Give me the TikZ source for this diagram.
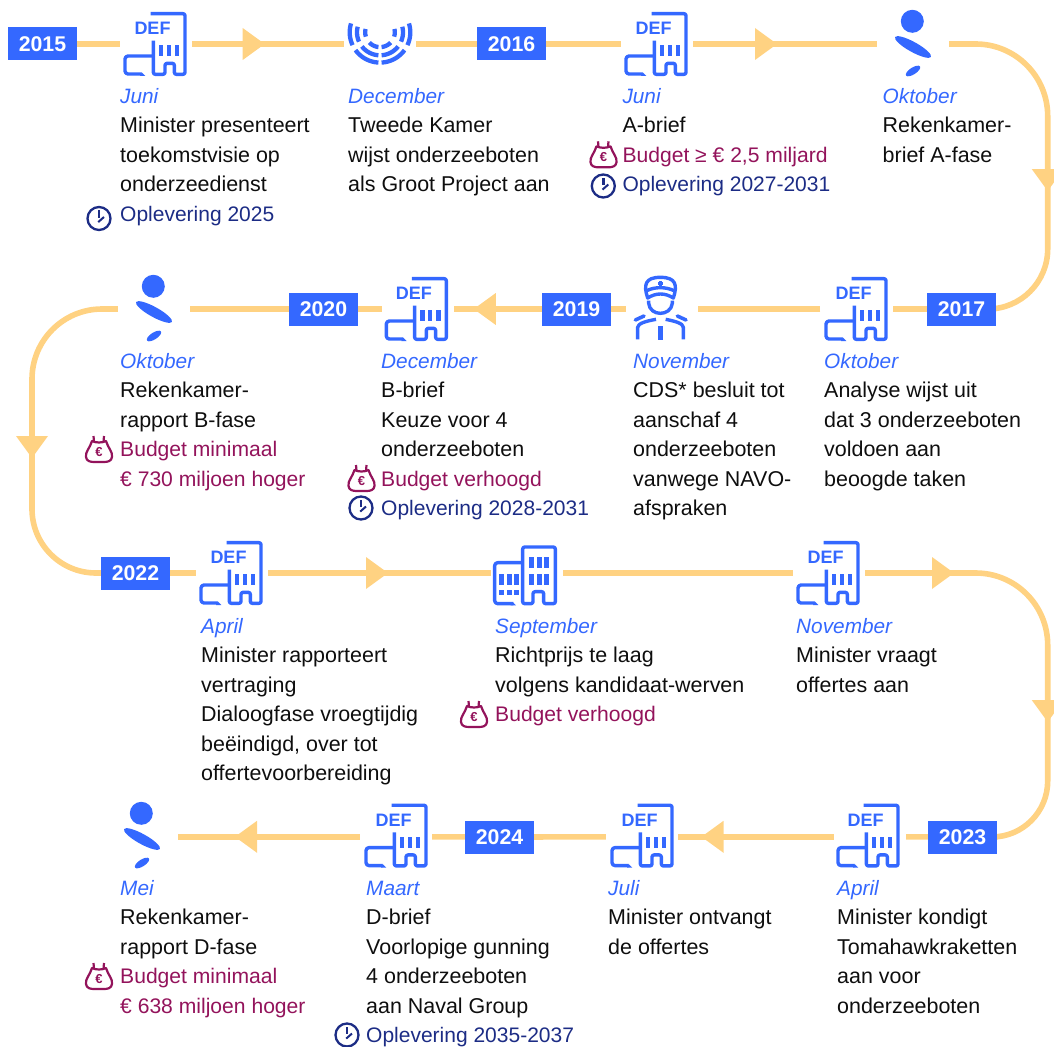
\documentclass[tikz,border=0pt]{standalone}
\usepackage{fontspec}
\usetikzlibrary{backgrounds}
\setmainfont{Liberation Sans}
\definecolor{kblue}{HTML}{3468FF}
\definecolor{road}{HTML}{FFD282}
\definecolor{navy}{HTML}{1C2C85}
\definecolor{plum}{HTML}{93135B}
\definecolor{ink}{HTML}{0E0E0E}
\newcommand{\mth}[1]{\strut{\color{kblue}\fontsize{20.8}{29.5}\selectfont\itshape #1}}
\newcommand{\nv}[1]{{\color{navy}\fontsize{21}{29.5}\selectfont #1}}
\newcommand{\pl}[1]{{\color{plum}\fontsize{21.1}{29.5}\selectfont #1}}
\tikzset{
  roadline/.style={draw=road,line width=5.6pt},
  yearbox/.style={fill=kblue,text=white,font=\fontsize{21.3}{21}\selectfont\bfseries,minimum width=69pt,minimum height=33pt,inner sep=0pt},
  slot/.style={minimum width=72pt,minimum height=64pt,inner sep=0pt},
  block/.style={anchor=north west,inner sep=0pt,align=left,text=ink,yshift=20.65pt,font=\fontsize{21.45}{29.5}\selectfont},
  iconline/.style={draw=kblue,line width=3.4pt,line join=round},
  pics/tri/.style={code={\fill[road] (-11,-16) -- (11,0) -- (-11,16) -- cycle;}},
  pics/deficon/.style={code={
    \begin{scope}[x=.33333pt,y=-.33333pt,shift={(-465,-132)}]
      \draw[iconline,rounded corners=2pt] (452,41) -- (555,41) -- (555,223) -- (523,223) -- (523,190) -- (495,190) -- (495,223) -- (460,223) -- (460,122);
      \draw[iconline,rounded corners=3pt] (460,168) -- (375,168) -- (375,222) -- (425,222);
      \fill[kblue] (425,217) -- (436,228) -- (420,228) -- cycle;
      \foreach \wx in {477,500,525} \fill[kblue] (\wx,135) rectangle ++(13,33);
      \node[text=kblue,font=\fontsize{18}{18}\selectfont\bfseries,inner sep=0pt] (lab) at (457.5,86) {DEF};
    \end{scope}}},
  pics/rkicon/.style={code={
    \fill[kblue] (-.7,-22.7) circle[radius=11.5];
    \fill[kblue,rotate around={-29:(0,3)}] (0,3) ellipse[x radius=20.5,y radius=5];
    \fill[kblue,rotate around={33:(0,27)}] (0,27) ellipse[x radius=8.3,y radius=3.4];}},
  pics/tkicon/.style={code={
    \begin{scope}[shift={(0,-11.7)}]
    \foreach \rr/\aa/\ab in {30.3/163/205,30.3/216/267,23/166/204,23/218/266,14.8/167/197,14.8/224/264}{
      \draw[draw=kblue,line width=4.3pt] plot[domain=\aa:\ab,samples=12] ({\rr*cos(\x)},{-\rr*sin(\x)});
      \draw[draw=kblue,line width=4.3pt] plot[domain=\aa:\ab,samples=12] ({-\rr*cos(\x)},{-\rr*sin(\x)});
    }
    \end{scope}}},
  pics/cdsicon/.style={code={
    \begin{scope}[x=.33333pt,y=-.33333pt,shift={(-181.5,-117)}]
      \draw[iconline] (143,84) .. controls (130,45) and (135,22) .. (181,22) .. controls (228,22) and (233,45) .. (220,84) .. controls (195,68) and (168,68) .. cycle;
      \draw[iconline] (140,62) .. controls (165,50) and (197,50) .. (222,62);
      \draw[iconline] (146,92) -- (146,100) .. controls (150,140) and (212,140) .. (217,100) -- (217,92);
      \fill[kblue] (176,33) rectangle (186,47); \fill[kblue] (174,36) rectangle (188,44);
      \draw[iconline,line cap=round,line width=3.6pt] (106,150) -- (132,138);
      \draw[iconline,line cap=round,line width=3.6pt] (258,150) -- (232,138);
      \draw[iconline] (113,208) -- (113,172) .. controls (113,160) and (140,153) .. (168,148);
      \draw[iconline] (250,208) -- (250,172) .. controls (250,160) and (223,153) .. (197,148);
      \fill[kblue] (174,168) rectangle (189,210);
    \end{scope}}},
  pics/wficon/.style={code={
    \begin{scope}[x=.33333pt,y=-.33333pt,shift={(-141,-114)}]
      \draw[iconline,rounded corners=2pt] (159,206) -- (128,206) -- (128,36) -- (226,36) -- (226,206) -- (191,206) -- (191,170) -- (159,170) -- cycle;
      \draw[iconline,rounded corners=3pt] (128,83) -- (44,83) -- (44,206) -- (100,206);
      \fill[kblue] (98,201) -- (108,211) -- (92,211) -- cycle;
      \foreach \wx in {147,170,192} \foreach \wy in {66,117} \fill[kblue] (\wx,\wy) rectangle ++(15,32);
      \foreach \wx in {57,80,102} { \fill[kblue] (\wx,117) rectangle ++(15,32); \fill[kblue] (\wx,165) rectangle ++(15,15); }
    \end{scope}}},
  pics/clockicon/.style={code={
    \draw[navy,line width=2.3pt] (0,0) circle[radius=11.5];
    \fill[navy] (-1.4,-8.5) rectangle (1.2,-.6);
    \draw[navy,line width=2pt] (5,-1.5) -- (-.8,3.6);}},
  pics/bagicon/.style={code={
    \draw[plum,line width=2.2pt,line join=round] (-7,-8) .. controls (-9,-1) and (-14,3) .. (-13,8) .. controls (-12.5,12) and (-9,13) .. (-5,13) -- (5,13) .. controls (9,13) and (12.5,12) .. (13,8) .. controls (14,3) and (9,-1) .. (7,-8) .. controls (3,-6) and (-3,-6) .. cycle;
    \draw[plum,line width=2.2pt] (-5,-7) -- (-5.5,-13);
    \draw[plum,line width=2.2pt] (4.5,-7) -- (5,-13);
    \node[text=plum,font=\fontsize{13}{13}\selectfont\bfseries,inner sep=0pt] (eur) at (0,3) {€};}}
}
\begin{document}
\begin{tikzpicture}[x=1pt,y=-1pt]
\clip (0,0) rectangle (1054,1046);
% year boxes
\node[yearbox] (y2015) at (42.5,44) {2015};
\node[yearbox] (y2016) at (511.5,44) {2016};
\node[yearbox] (y2017) at (961.5,309) {2017};
\node[yearbox] (y2019) at (576.5,309) {2019};
\node[yearbox] (y2020) at (323.5,309) {2020};
\node[yearbox] (y2022) at (135.5,573) {2022};
\node[yearbox] (y2023) at (962.5,837) {2023};
\node[yearbox] (y2024) at (499.5,837) {2024};
% icon slots
\node[slot] (d1) at (156,44) {};
\node[slot] (tk) at (380,44) {};
\node[slot] (d2) at (657,44) {};
\node[slot] (r1) at (913,44) {};
\node[slot] (d3) at (856.5,309) {};
\node[slot] (cds) at (662,309) {};
\node[slot] (d4) at (418,309) {};
\node[slot] (r2) at (154,309) {};
\node[slot] (d5) at (232,573) {};
\node[slot] (wf) at (527,573) {};
\node[slot] (d6) at (829,573) {};
\node[slot] (d7) at (870,836.8) {};
\node[slot] (d8) at (642,836.8) {};
\node[slot] (d9) at (396,836.8) {};
\node[slot] (r3) at (142,836.8) {};
% corners
\coordinate (c1) at (1047.7,44);
\coordinate (c2) at (1047.7,309);
\coordinate (c3) at (32,309);
\coordinate (c4) at (32,573);
\coordinate (c5) at (1047.7,573);
\coordinate (c6) at (1047.7,837);
% connectors
\begin{scope}[on background layer]
\draw[roadline] (y2015) -- (d1);
\draw[roadline] (d1) -- (tk);
\draw[roadline] (tk) -- (y2016);
\draw[roadline] (y2016) -- (d2);
\draw[roadline] (d2) -- (r1);
\draw[roadline] (r1.east) [rounded corners=72pt] -- (c1) [rounded corners=60pt] -- (c2) [sharp corners] -- (y2017.east);
\draw[roadline] (y2017) -- (d3);
\draw[roadline] (d3) -- (cds);
\draw[roadline] (cds) -- (y2019);
\draw[roadline] (y2019) -- (d4);
\draw[roadline] (d4) -- (y2020);
\draw[roadline] (y2020) -- (r2);
\draw[roadline] (r2.west) [rounded corners=70pt] -- (c3) [rounded corners=64pt] -- (c4) [sharp corners] -- (y2022.west);
\draw[roadline] (y2022) -- (d5);
\draw[roadline] (d5) -- (wf);
\draw[roadline] (wf) -- (d6);
\draw[roadline] (d6.east) [rounded corners=72pt] -- (c5) [rounded corners=56pt] -- (c6) [sharp corners] -- (y2023.east);
\draw[roadline] (y2023) -- (d7);
\draw[roadline] (d7) -- (d8);
\draw[roadline] (d8) -- (y2024);
\draw[roadline] (y2024) -- (d9);
\draw[roadline] (d9) -- (r3);
\end{scope}
% arrowheads
\pic at (253.7,44) {tri};
\pic at (766,44) {tri};
\pic[rotate=-90] at (1047.7,180) {tri};
\pic[rotate=180] at (484.8,309) {tri};
\pic[rotate=-90] at (32,447) {tri};
\pic at (377,573) {tri};
\pic at (943,573) {tri};
\pic[rotate=-90] at (1047.7,711) {tri};
\pic[rotate=180] at (712.5,836.8) {tri};
\pic[rotate=180] at (246,836.8) {tri};
% icons
\pic (a1) at (155,44) {deficon};
\pic at (tk) {tkicon};
\pic (a2) at (656,44) {deficon};
\pic at (r1) {rkicon};
\pic (a3) at (856,309) {deficon};
\pic at (660.5,309) {cdsicon};
\pic (a4) at (416.3,309) {deficon};
\pic at (r2) {rkicon};
\pic (a5) at (231,573) {deficon};
\pic at (wf) {wficon};
\pic (a6) at (828,573) {deficon};
\pic (a7) at (868,835.6) {deficon};
\pic (a8) at (642,835.6) {deficon};
\pic (a9) at (396,835.6) {deficon};
\pic at (142,836) {rkicon};
% texts
\node[block] (t1) at (120,103) {\mth{Juni}\\Minister presenteert\\toekomstvisie op\\onderzeedienst\\\nv{Oplevering 2025}};
\node[block] (t2) at (348,103) {\mth{December}\\Tweede Kamer\\wijst onderzeeboten\\als Groot Project aan};
\node[block] (t3) at (622.3,103) {\mth{Juni}\\A-brief\\\pl{Budget ≥ € 2,5 miljard}\\\nv{Oplevering 2027-2031}};
\node[block] (t4) at (882.5,103) {\mth{Oktober}\\Rekenkamer-\\brief A-fase};
\node[block] (t5) at (824,368) {\mth{Oktober}\\Analyse wijst uit\\dat 3 onderzeeboten\\voldoen aan\\beoogde taken};
\node[block] (t6) at (633,368) {\mth{November}\\CDS* besluit tot\\aanschaf 4\\onderzeeboten\\vanwege NAVO-\\afspraken};
\node[block] (t7) at (381,368) {\mth{December}\\B-brief\\Keuze voor 4\\onderzeeboten\\\pl{Budget verhoogd}\\\nv{Oplevering 2028-2031}};
\node[block] (t8) at (120,368) {\mth{Oktober}\\Rekenkamer-\\rapport B-fase\\\pl{Budget minimaal}\\\pl{€ 730 miljoen hoger}};
\node[block] (t9) at (201,633) {\mth{April}\\Minister rapporteert\\vertraging\\Dialoogfase vroegtijdig\\beëindigd, over tot\\offertevoorbereiding};
\node[block] (t10) at (495,633) {\mth{September}\\Richtprijs te laag\\volgens kandidaat-werven\\\pl{Budget verhoogd}};
\node[block] (t11) at (796,633) {\mth{November}\\Minister vraagt\\offertes aan};
\node[block] (t12) at (837,895) {\mth{April}\\Minister kondigt\\Tomahawkraketten\\aan voor\\onderzeeboten};
\node[block] (t13) at (608,895) {\mth{Juli}\\Minister ontvangt\\de offertes};
\node[block] (t14) at (366,895) {\mth{Maart}\\D-brief\\Voorlopige gunning\\4 onderzeeboten\\aan Naval Group\\\nv{Oplevering 2035-2037}};
\node[block] (t15) at (120,895) {\mth{Mei}\\Rekenkamer-\\rapport D-fase\\\pl{Budget minimaal}\\\pl{€ 638 miljoen hoger}};
% small icons
\pic at (99,218.5) {clockicon};
\pic at (603.3,186) {clockicon};
\pic (b1) at (603.5,154.3) {bagicon};
\pic (b2) at (99,449) {bagicon};
\pic (b3) at (361.5,478) {bagicon};
\pic at (361,508) {clockicon};
\pic (b4) at (474,714) {bagicon};
\pic (b5) at (99,976) {bagicon};
\pic at (347,1035) {clockicon};
\end{tikzpicture}
\end{document}
